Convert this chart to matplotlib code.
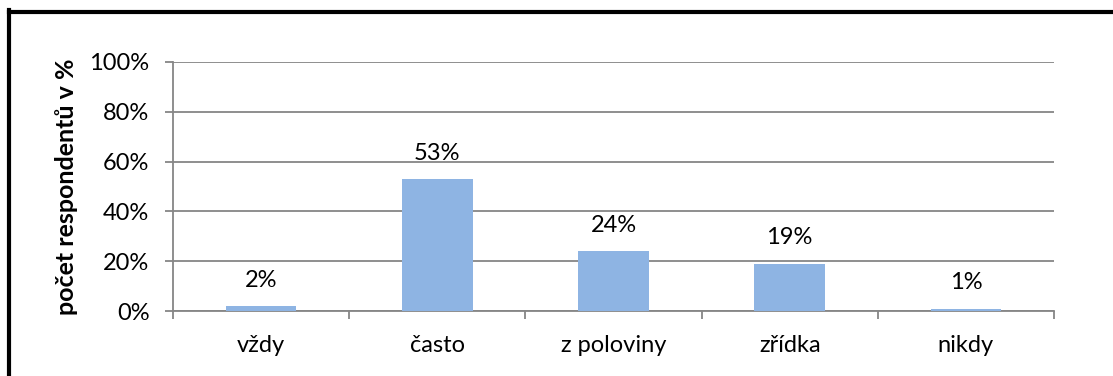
import matplotlib.pyplot as plt
from matplotlib.lines import Line2D
import numpy as np

plt.rcParams['font.family'] = ['Lato', 'DejaVu Sans']

# Data
kategorie = ['vždy', 'často', 'z poloviny', 'zřídka', 'nikdy']
hodnoty = [2, 53, 24, 19, 1]
yticks = [0, 20, 40, 60, 80, 100]

W, H = 1113, 376
fig = plt.figure(figsize=(W / 100, H / 100), dpi=100)
ax = fig.add_axes([173 / W, 1 - 311 / H, (1054 - 173) / W, (311 - 62) / H])

cinza = '#868686'
x = np.arange(len(kategorie))
ax.bar(x, hodnoty, width=0.4, color='#8EB4E3', zorder=3)

for xi, v in zip(x, hodnoty):
    ax.annotate(f'{v}%', (xi, v), xytext=(0, 11), textcoords='offset points',
                ha='center', va='bottom', fontsize=17)

ax.set_xlim(-0.5, len(kategorie) - 0.5)
ax.set_ylim(0, 100)
ax.set_yticks(yticks)
ax.set_yticklabels([f'{t}%' for t in yticks], fontsize=17)
ax.set_xticks(x)
ax.set_xticklabels(kategorie, fontsize=17)
ax.set_xticks(np.arange(-0.5, len(kategorie)), minor=True)
ax.tick_params(axis='x', which='major', length=0, pad=17)
ax.tick_params(axis='x', which='minor', length=6, width=1.3, color=cinza)
ax.tick_params(axis='y', length=6, width=1.3, color=cinza, pad=11)
ax.grid(axis='y', color=cinza, linewidth=1.3, zorder=0)

for s in ['top', 'right']:
    ax.spines[s].set_visible(False)
for s in ['left', 'bottom']:
    ax.spines[s].set_color(cinza)
    ax.spines[s].set_linewidth(1.3)

ax.set_ylabel('počet respondentů v %', fontsize=18, fontweight='bold', labelpad=8)

# Black frame (top and left only visible)
fig.add_artist(Line2D([9 / W, 1], [1 - 11.5 / H] * 2, color='black', linewidth=3,
                      transform=fig.transFigure))
fig.add_artist(Line2D([9 / W] * 2, [0, 1 - 10 / H], color='black', linewidth=3,
                      transform=fig.transFigure))

fig.savefig('out.png', dpi=100)
